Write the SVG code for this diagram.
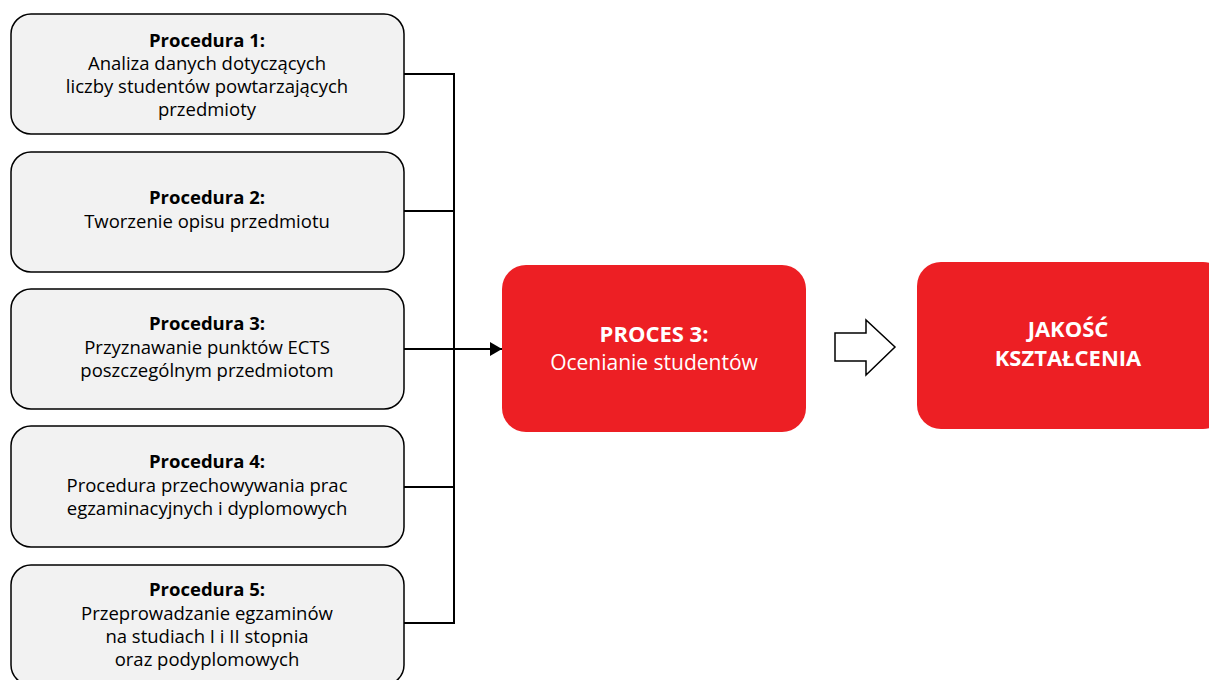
<svg xmlns="http://www.w3.org/2000/svg" width="1209" height="680" viewBox="0 0 1209 680">
<defs>
<style>
.proc{fill:#f2f2f2;stroke:#000;stroke-width:1.5}
.red{fill:#ed1f24}
.t{font-family:"Open Sans","Liberation Sans",sans-serif;font-size:18.5px;fill:#000;text-anchor:middle}
.b{font-weight:bold}
.w{font-family:"Open Sans","Liberation Sans",sans-serif;font-size:21px;fill:#fff;text-anchor:middle}
.wb{font-size:22px;font-weight:bold}
.conn{fill:none;stroke:#000;stroke-width:2}
</style>
<marker id="ah" viewBox="0 0 12 14" refX="12" refY="7" markerWidth="12" markerHeight="14" orient="auto" markerUnits="userSpaceOnUse">
<path d="M0,0 L12,7 L0,14 z" fill="#000"/>
</marker>
</defs>
<rect width="1209" height="680" fill="#fff"/>
<g id="connectors">
<path class="conn" d="M404,74 H454 M404,211 H454 M404,487 H454 M404,623 H454 M454,73 V624"/>
<path class="conn" d="M404,349 H502" marker-end="url(#ah)"/>
<path d="M835,333 H866 V320 L895,347 L866,375 V361 H835 Z" fill="#fff" stroke="#000" stroke-width="1.5"/>
</g>
<g id="proc1">
<rect class="proc" x="11" y="14" width="393" height="120" rx="20"/>
<text class="t b" x="207" y="47">Procedura 1:</text>
<text class="t" x="207" y="70">Analiza danych dotyczących</text>
<text class="t" x="207" y="93">liczby studentów powtarzających</text>
<text class="t" x="207" y="116">przedmioty</text>
</g>
<g id="proc2">
<rect class="proc" x="11" y="152" width="393" height="120" rx="20"/>
<text class="t b" x="207" y="204">Procedura 2:</text>
<text class="t" x="207" y="228">Tworzenie opisu przedmiotu</text>
</g>
<g id="proc3">
<rect class="proc" x="11" y="289" width="393" height="120" rx="20"/>
<text class="t b" x="207" y="330">Procedura 3:</text>
<text class="t" x="207" y="354">Przyznawanie punktów ECTS</text>
<text class="t" x="207" y="377">poszczególnym przedmiotom</text>
</g>
<g id="proc4">
<rect class="proc" x="11" y="426" width="393" height="121" rx="20"/>
<text class="t b" x="207" y="468">Procedura 4:</text>
<text class="t" x="207" y="492">Procedura przechowywania prac</text>
<text class="t" x="207" y="515">egzaminacyjnych i dyplomowych</text>
</g>
<g id="proc5">
<rect class="proc" x="11" y="565" width="393" height="120" rx="20"/>
<text class="t b" x="207" y="596">Procedura 5:</text>
<text class="t" x="207" y="620">Przeprowadzanie egzaminów</text>
<text class="t" x="207" y="643">na studiach I i II stopnia</text>
<text class="t" x="207" y="666">oraz podyplomowych</text>
</g>
<g id="proces3">
<rect class="red" x="502" y="265" width="304" height="167" rx="24"/>
<text class="w wb" x="654" y="342">PROCES 3:</text>
<text class="w" x="654" y="370">Ocenianie studentów</text>
</g>
<g id="jakosc">
<rect class="red" x="917" y="262" width="310" height="167" rx="24"/>
<text class="w wb" x="1068" y="337">JAKOŚĆ</text>
<text class="w wb" x="1068" y="366">KSZTAŁCENIA</text>
</g>
</svg>
